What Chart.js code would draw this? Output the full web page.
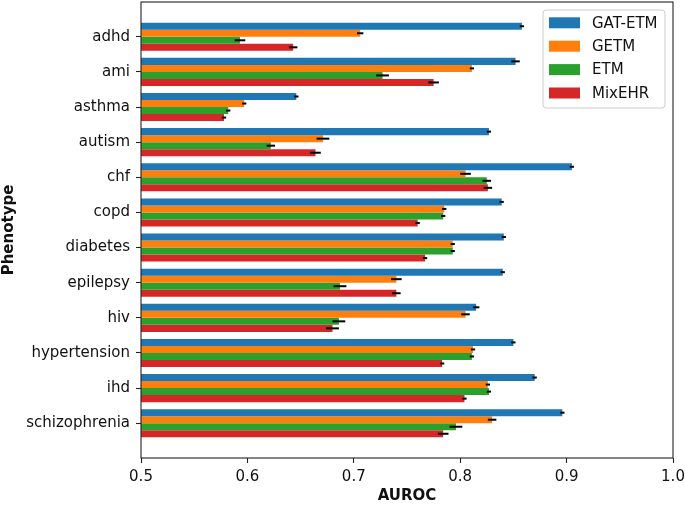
<!DOCTYPE html>
<html>
<head>
<meta charset="utf-8">
<script src="https://cdn.jsdelivr.net/npm/chart.js@4/dist/chart.umd.min.js"></script>
<style>
  html, body { margin: 0; padding: 0; background: #ffffff; }
  #wrap { width: 685px; height: 505px; }
</style>
</head>
<body>
<div id="wrap"><canvas id="c" width="685" height="505"></canvas></div>
<script>
// ---- data ----
const categories = ['adhd', 'ami', 'asthma', 'autism', 'chf', 'copd', 'diabetes', 'epilepsy', 'hiv', 'hypertension', 'ihd', 'schizophrenia'];
const seriesNames = ['GAT-ETM', 'GETM', 'ETM', 'MixEHR'];
const gatEtm = [0.858, 0.852, 0.646, 0.827, 0.905, 0.839, 0.841, 0.840, 0.815, 0.850, 0.870, 0.896];
const getm   = [0.706, 0.811, 0.597, 0.671, 0.805, 0.785, 0.793, 0.740, 0.805, 0.812, 0.826, 0.830];
const etm    = [0.593, 0.727, 0.582, 0.622, 0.825, 0.784, 0.793, 0.687, 0.686, 0.811, 0.827, 0.796];
const mixehr = [0.643, 0.775, 0.578, 0.664, 0.826, 0.760, 0.767, 0.740, 0.680, 0.783, 0.804, 0.784];
const gatEtmErr = [0.002, 0.004, 0.002, 0.002, 0.002, 0.002, 0.002, 0.002, 0.003, 0.002, 0.002, 0.002];
const getmErr   = [0.003, 0.002, 0.002, 0.006, 0.005, 0.002, 0.002, 0.005, 0.004, 0.002, 0.002, 0.004];
const etmErr    = [0.005, 0.006, 0.002, 0.004, 0.004, 0.002, 0.002, 0.006, 0.006, 0.002, 0.002, 0.006];
const mixehrErr = [0.004, 0.005, 0.002, 0.005, 0.004, 0.002, 0.002, 0.004, 0.006, 0.002, 0.002, 0.005];
const xTicks = [0.5, 0.6, 0.7, 0.8, 0.9, 1.0];
const colors = ['#1f77b4', '#ff7f0e', '#2ca02c', '#d62728'];

const seriesValues = [gatEtm, getm, etm, mixehr];
const seriesErrors = [gatEtmErr, getmErr, etmErr, mixehrErr];

const FONT = 'DejaVu Sans';
const TEXT = '#111111';

const datasets = seriesValues.map((vals, s) => ({
  label: seriesNames[s],
  data: vals.map((v, i) => ({ x: v, y: i })),
  errors: seriesErrors[s],
  backgroundColor: colors[s],
  borderWidth: 0,
  categoryPercentage: 0.8,
  barPercentage: 1.0
}));

const extras = {
  id: 'extras',
  afterDatasetsDraw(chart) {
    const ctx = chart.ctx;
    const xs = chart.scales.x;
    const area = chart.chartArea;
    // error bars
    ctx.save();
    ctx.strokeStyle = '#000000';
    ctx.lineWidth = 2;
    chart.data.datasets.forEach((ds, di) => {
      const meta = chart.getDatasetMeta(di);
      meta.data.forEach((bar, i) => {
        const v = ds.data[i].x, e = ds.errors[i];
        const x1 = xs.getPixelForValue(v - e);
        const x2 = xs.getPixelForValue(v + e);
        ctx.beginPath();
        ctx.moveTo(x1, bar.y);
        ctx.lineTo(x2, bar.y);
        ctx.stroke();
      });
    });
    ctx.restore();
    // frame
    ctx.save();
    ctx.strokeStyle = '#222222';
    ctx.lineWidth = 1.1;
    ctx.strokeRect(area.left, area.top, area.right - area.left, area.bottom - area.top);
    ctx.restore();
    // legend (upper right, inside axes)
    ctx.save();
    const fs = 15;
    ctx.font = fs + 'px "' + FONT + '"';
    const pad = 7.5;
    const handleLen = 31, handleH = 11, textGap = 12, rowH = 23.4;
    let maxW = 0;
    chart.data.datasets.forEach(ds => { maxW = Math.max(maxW, ctx.measureText(ds.label).width); });
    const boxW = pad - 1.5 + handleLen + textGap + maxW + pad;
    const boxH = 98;
    const bx = area.right - 8 - boxW;
    const by = area.top + 8;
    ctx.beginPath();
    if (ctx.roundRect) ctx.roundRect(bx, by, boxW, boxH, 3); else ctx.rect(bx, by, boxW, boxH);
    ctx.fillStyle = 'rgba(255,255,255,0.8)';
    ctx.fill();
    ctx.strokeStyle = '#cccccc';
    ctx.lineWidth = 1;
    ctx.stroke();
    chart.data.datasets.forEach((ds, di) => {
      const cy = by + 12.8 + di * rowH;
      const hx = bx + 6;
      ctx.fillStyle = ds.backgroundColor;
      ctx.fillRect(hx, cy - handleH / 2, handleLen, handleH);
      ctx.fillStyle = TEXT;
      ctx.textAlign = 'left';
      ctx.textBaseline = 'middle';
      ctx.fillText(ds.label, hx + handleLen + textGap, cy + 1);
    });
    ctx.restore();
  }
};

new Chart(document.getElementById('c'), {
  type: 'bar',
  data: { datasets },
  options: {
    indexAxis: 'y',
    responsive: false,
    animation: false,
    devicePixelRatio: 1,
    layout: { padding: { left: 0, right: 12, top: 2, bottom: 0 } },
    plugins: { legend: { display: false }, tooltip: { enabled: false } },
    scales: {
      x: {
        type: 'linear',
        min: 0.5,
        max: 1.0,
        beginAtZero: false,
        afterBuildTicks(scale) { scale.ticks = xTicks.map(v => ({ value: v })); },
        afterFit(scale) {
          scale.height = 47;
          scale.paddingLeft = 0; scale.paddingRight = 0;
          scale.paddingTop = 0; scale.paddingBottom = 0;
        },
        border: { display: false },
        grid: { drawOnChartArea: false, drawTicks: true, tickLength: 5, tickColor: '#222222', tickWidth: 1.1 },
        ticks: {
          padding: 5,
          color: TEXT,
          font: { family: FONT, size: 15 },
          callback: v => Number(v).toFixed(1),
          maxRotation: 0
        },
        title: {
          display: true,
          text: 'AUROC',
          color: TEXT,
          font: { family: FONT, size: 15, weight: 'bold' },
          padding: { top: 0, bottom: 0 }
        }
      },
      y: {
        type: 'linear',
        reverse: true,
        offset: false,
        min: -0.99,
        max: 11.99,
        afterFit(scale) {
          scale.width = 141;
          scale.paddingLeft = 0; scale.paddingRight = 0;
          scale.paddingTop = 0; scale.paddingBottom = 0;
        },
        border: { display: false },
        grid: { offset: false, drawOnChartArea: false, drawTicks: true, tickLength: 5, tickColor: '#222222', tickWidth: 1.1 },
        ticks: {
          stepSize: 1,
          includeBounds: false,
          autoSkip: false,
          padding: 6,
          color: TEXT,
          font: { family: FONT, size: 15 },
          callback: v => (Number.isInteger(v) && categories[v] !== undefined) ? categories[v] : ''
        },
        title: {
          display: true,
          text: 'Phenotype',
          color: TEXT,
          font: { family: FONT, size: 15, weight: 'bold' },
          padding: { top: 0, bottom: 0 }
        }
      }
    }
  },
  plugins: [extras]
});
</script>
</body>
</html>
